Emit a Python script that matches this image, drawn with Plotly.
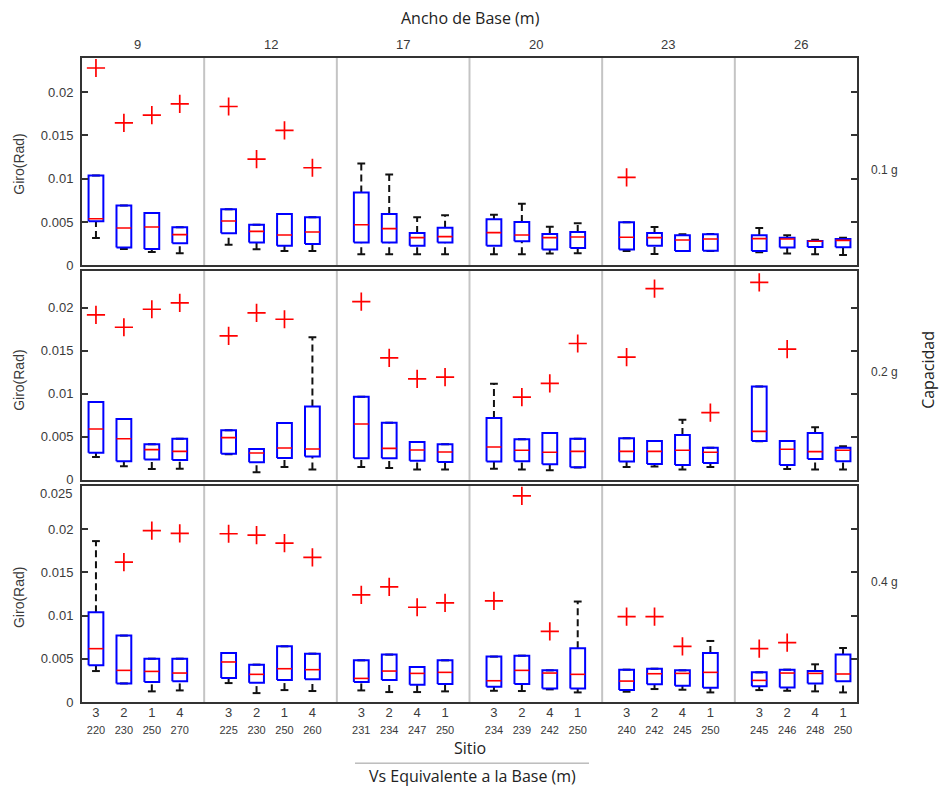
import plotly.graph_objects as go

# ---------------- data ----------------
anchos = [9, 12, 17, 20, 23, 26]
capacidades = ["0.1 g", "0.2 g", "0.4 g"]
sitios = [3, 2, 1, 4, 3, 2, 1, 4, 3, 2, 4, 1, 3, 2, 4, 1, 3, 2, 4, 1, 3, 2, 4, 1]
vs_base = [220, 230, 250, 270, 225, 230, 250, 260, 231, 234, 247, 250,
           234, 239, 242, 250, 240, 242, 245, 250, 245, 246, 248, 250]

# Capacidad 0.1 g
lo_01 = [0.00315, 0.00188, 0.00154, 0.00138, 0.00238, 0.00185, 0.00165, 0.00165,
         0.00127, 0.00127, 0.00127, 0.00127, 0.00127, 0.00127, 0.00135, 0.00138,
         0.00165, 0.00131, 0.00165, 0.00165, 0.00150, 0.00135, 0.00127, 0.00119]
q1_01 = [0.00508, 0.00204, 0.00188, 0.00254, 0.00369, 0.00262, 0.00227, 0.00246,
         0.00262, 0.00262, 0.00227, 0.00262, 0.00227, 0.00277, 0.00181, 0.00200,
         0.00181, 0.00227, 0.00165, 0.00169, 0.00165, 0.00204, 0.00212, 0.00208]
med_01 = [0.00538, 0.00431, 0.00442, 0.00354, 0.00512, 0.00392, 0.00350, 0.00385,
          0.00469, 0.00423, 0.00319, 0.00331, 0.00377, 0.00350, 0.00319, 0.00327,
          0.00323, 0.00319, 0.00292, 0.00304, 0.00308, 0.00304, 0.00277, 0.00288]
q3_01 = [0.01038, 0.00692, 0.00604, 0.00438, 0.00646, 0.00469, 0.00592, 0.00554,
         0.00842, 0.00592, 0.00373, 0.00435, 0.00531, 0.00500, 0.00362, 0.00385,
         0.00496, 0.00373, 0.00346, 0.00358, 0.00346, 0.00319, 0.00281, 0.00304]
hi_01 = [0.01038, 0.00692, 0.00604, 0.00438, 0.00646, 0.00469, 0.00592, 0.00554,
         0.01177, 0.01050, 0.00554, 0.00577, 0.00585, 0.00712, 0.00446, 0.00485,
         0.00496, 0.00442, 0.00358, 0.00362, 0.00431, 0.00346, 0.00296, 0.00319]
out_01 = [0.02280, 0.01646, 0.01735, 0.01865, 0.01835, 0.01227, 0.01558, 0.01127,
          None, None, None, None, None, None, None, None,
          0.01015, None, None, None, None, None, None, None]

# Capacidad 0.2 g
lo_02 = [0.00267, 0.00158, 0.00128, 0.00131, 0.00298, 0.00089, 0.00151, 0.00120,
         0.00151, 0.00139, 0.00120, 0.00120, 0.00131, 0.00120, 0.00112, 0.00143,
         0.00151, 0.00155, 0.00120, 0.00151, 0.00448, 0.00128, 0.00120, 0.00120]
q1_02 = [0.00317, 0.00216, 0.00236, 0.00232, 0.00305, 0.00205, 0.00255, 0.00271,
         0.00251, 0.00251, 0.00224, 0.00209, 0.00213, 0.00216, 0.00182, 0.00147,
         0.00213, 0.00186, 0.00174, 0.00197, 0.00452, 0.00174, 0.00244, 0.00216]
med_02 = [0.00591, 0.00479, 0.00352, 0.00332, 0.00491, 0.00313, 0.00371, 0.00360,
          0.00649, 0.00367, 0.00348, 0.00325, 0.00383, 0.00344, 0.00321, 0.00332,
          0.00332, 0.00332, 0.00344, 0.00321, 0.00564, 0.00356, 0.00329, 0.00344]
q3_02 = [0.00905, 0.00707, 0.00414, 0.00479, 0.00576, 0.00360, 0.00661, 0.00854,
         0.00966, 0.00665, 0.00441, 0.00414, 0.00719, 0.00472, 0.00545, 0.00479,
         0.00483, 0.00452, 0.00522, 0.00375, 0.01086, 0.00452, 0.00545, 0.00375]
hi_02 = [0.00905, 0.00707, 0.00414, 0.00479, 0.00576, 0.00360, 0.00661, 0.01658,
         0.00966, 0.00665, 0.00441, 0.00414, 0.01117, 0.00472, 0.00545, 0.00479,
         0.00483, 0.00452, 0.00700, 0.00375, 0.01086, 0.00452, 0.00611, 0.00390]
out_02 = [0.01917, 0.01774, 0.01983, 0.02056, 0.01674, 0.01940, 0.01867, None,
          0.02072, 0.01419, 0.01175, 0.01194, None, 0.00963, 0.01121, 0.01585,
          0.01426, 0.02223, None, 0.00781, 0.02296, 0.01519, None, None]

# Capacidad 0.4 g
lo_04 = [0.00359, 0.00216, 0.00124, 0.00135, 0.00220, 0.00104, 0.00139, 0.00128,
         0.00135, 0.00116, 0.00116, 0.00124, 0.00131, 0.00128, 0.00147, 0.00112,
         0.00120, 0.00151, 0.00143, 0.00112, 0.00139, 0.00131, 0.00124, 0.00112]
q1_04 = [0.00425, 0.00216, 0.00232, 0.00240, 0.00278, 0.00224, 0.00255, 0.00263,
         0.00232, 0.00255, 0.00201, 0.00209, 0.00178, 0.00209, 0.00158, 0.00158,
         0.00139, 0.00205, 0.00189, 0.00166, 0.00182, 0.00170, 0.00216, 0.00240]
med_04 = [0.00618, 0.00367, 0.00355, 0.00336, 0.00464, 0.00321, 0.00386, 0.00375,
          0.00274, 0.00359, 0.00332, 0.00344, 0.00247, 0.00367, 0.00336, 0.00321,
          0.00243, 0.00328, 0.00332, 0.00344, 0.00251, 0.00336, 0.00332, 0.00325]
q3_04 = [0.01039, 0.00769, 0.00502, 0.00502, 0.00568, 0.00433, 0.00645, 0.00560,
         0.00483, 0.00549, 0.00406, 0.00483, 0.00526, 0.00537, 0.00367, 0.00622,
         0.00375, 0.00386, 0.00367, 0.00568, 0.00344, 0.00375, 0.00359, 0.00549]
hi_04 = [0.01862, 0.00769, 0.00502, 0.00502, 0.00568, 0.00433, 0.00645, 0.00560,
         0.00483, 0.00549, 0.00406, 0.00483, 0.00526, 0.00537, 0.00367, 0.01163,
         0.00375, 0.00386, 0.00367, 0.00707, 0.00344, 0.00375, 0.00437, 0.00626]
out_04 = [None, 0.01619, 0.01982, 0.01951, 0.01947, 0.01932, 0.01839, 0.01673,
          0.01240, 0.01333, 0.01097, 0.01148, 0.01171, 0.02384, 0.00819, None,
          0.00989, 0.00989, 0.00645, None, 0.00618, 0.00688, None, None]

rows = [
    (lo_01, q1_01, med_01, q3_01, hi_01, out_01),
    (lo_02, q1_02, med_02, q3_02, hi_02, out_02),
    (lo_04, q1_04, med_04, q3_04, hi_04, out_04),
]
y_ranges = [[0, 0.024], [0, 0.0243], [0, 0.025]]

# ---------------- layout helpers ----------------
W, H = 939, 790


def py(ypix):
    """reference pixel row -> paper fraction (slight vertical stretch)"""
    adj = 40 + (ypix - 40) * 1.011
    return 1 - adj / H


GROUP_STEP = 4.75
positions = [g * GROUP_STEP + i for g in range(len(anchos)) for i in range(4)]
dividers = [g * GROUP_STEP + 3.875 for g in range(len(anchos) - 1)]
x_range = [-0.5, positions[-1] + 0.5]
BW = 0.265  # half box width
CW = 0.14   # half cap width

x_dom = [82 / W, 857 / W]
y_doms = [[py(265.5), py(58)],
          [py(480), py(271)],
          [py(702), py(486)]]

FRAME = "#333333"
TICKFONT = dict(family="Liberation Sans, Arial", size=13, color="#3a3a3a")

fig = go.Figure()

for r, (lo, q1, med, q3, hi, out) in enumerate(rows):
    xa = "x" if r == 0 else f"x{r+1}"
    ya = "y" if r == 0 else f"y{r+1}"
    wx, wy, cx, cy, bx, by, mx, my, ox, oy = [], [], [], [], [], [], [], [], [], []
    for k, p in enumerate(positions):
        wx += [p, p, None, p, p, None]
        wy += [q3[k], hi[k], None, lo[k], q1[k], None]
        cx += [p - CW, p + CW, None, p - CW, p + CW, None]
        cy += [hi[k], hi[k], None, lo[k], lo[k], None]
        bx += [p - BW, p + BW, p + BW, p - BW, p - BW, None]
        by += [q1[k], q1[k], q3[k], q3[k], q1[k], None]
        mx += [p - BW, p + BW, None]
        my += [med[k], med[k], None]
        if out[k] is not None:
            ox.append(p)
            oy.append(out[k])
    fig.add_trace(go.Scatter(x=wx, y=wy, mode="lines", xaxis=xa, yaxis=ya,
                             line=dict(color="#111111", width=2, dash="7px,4px"),
                             hoverinfo="skip", showlegend=False))
    fig.add_trace(go.Scatter(x=cx, y=cy, mode="lines", xaxis=xa, yaxis=ya,
                             line=dict(color="#111111", width=2),
                             hoverinfo="skip", showlegend=False))
    fig.add_trace(go.Scatter(x=bx, y=by, mode="lines", xaxis=xa, yaxis=ya,
                             line=dict(color="#0000ff", width=2),
                             hoverinfo="skip", showlegend=False))
    fig.add_trace(go.Scatter(x=mx, y=my, mode="lines", xaxis=xa, yaxis=ya,
                             line=dict(color="#ff0000", width=1.6),
                             hoverinfo="skip", showlegend=False))
    fig.add_trace(go.Scatter(x=ox, y=oy, mode="markers", xaxis=xa, yaxis=ya,
                             marker=dict(symbol="cross-thin", size=13,
                                         line=dict(color="#ff0000", width=1.7)),
                             hoverinfo="skip", showlegend=False))

    for d in dividers:
        fig.add_shape(type="line", xref=xa, yref=f"{ya} domain", x0=d, x1=d, y0=0, y1=1,
                      line=dict(color="#c4c4c4", width=2), layer="below")

    xkey = "xaxis" if r == 0 else f"xaxis{r+1}"
    ykey = "yaxis" if r == 0 else f"yaxis{r+1}"
    xcfg = dict(domain=x_dom, anchor=ya, range=x_range, showgrid=False, zeroline=False,
                showline=True, mirror=True, linecolor=FRAME, linewidth=2, ticks="",
                fixedrange=True)
    if r == 2:
        xcfg.update(tickmode="array", tickvals=positions,
                    ticktext=[f"{s}<br><span style='font-size:11px'>{v}</span>"
                              for s, v in zip(sitios, vs_base)],
                    tickfont=TICKFONT, ticklabelstandoff=-3)
    else:
        xcfg.update(showticklabels=False)
    yt = [0, 0.005, 0.01, 0.015, 0.02]
    ycfg = dict(domain=y_doms[r], anchor=xa, range=y_ranges[r], showgrid=False,
                zeroline=False, showline=True, mirror="ticks", linecolor=FRAME,
                linewidth=2, ticks="inside", ticklen=6, tickwidth=1.5, tickcolor=FRAME,
                tickmode="array", tickvals=yt,
                ticktext=["0", "0.005", "0.01", "0.015", "0.02"],
                tickfont=TICKFONT, ticklabelstandoff=4, fixedrange=True)
    fig.layout[xkey] = xcfg
    fig.layout[ykey] = ycfg

TITLE_FONT = dict(family="Open Sans", size=16, color="#222222")
C = dict(xanchor="center", yanchor="middle", showarrow=False)
ann = []
ann.append(dict(text="Ancho de Base (m)", x=470 / W, y=py(18), xref="paper", yref="paper",
                font=TITLE_FONT, **C))
for g, a in enumerate(anchos):
    ann.append(dict(text=str(a), x=g * GROUP_STEP + 1.5, y=py(45), xref="x", yref="paper",
                    font=TICKFONT, **C))
giro_y = [165, 381, 598]
cap_y = [170, 372, 582]
for r in range(3):
    ann.append(dict(text="Giro(Rad)", x=19 / W, y=py(giro_y[r]), xref="paper", yref="paper",
                    textangle=-90,
                    font=dict(family="Liberation Sans, Arial", size=14, color="#3a3a3a"), **C))
    ann.append(dict(text=capacidades[r], x=884 / W, y=py(cap_y[r]), xref="paper",
                    yref="paper",
                    font=dict(family="Liberation Sans, Arial", size=12, color="#3a3a3a"), **C))
ann.append(dict(text="Capacidad", x=928 / W, y=py(370), xref="paper", yref="paper",
                textangle=-90, font=TITLE_FONT, **C))
ann.append(dict(text="0.025", x=75 / W, y=py(494), xref="paper", yref="paper",
                xanchor="right", yanchor="middle", showarrow=False, font=TICKFONT))
ann.append(dict(text="Sitio", x=470 / W, y=py(748), xref="paper", yref="paper",
                font=TITLE_FONT, **C))
ann.append(dict(text="Vs Equivalente a la Base (m)", x=473 / W, y=py(776), xref="paper",
                yref="paper", font=TITLE_FONT, **C))

fig.add_shape(type="line", xref="paper", yref="paper", x0=355 / W, x1=589 / W,
              y0=py(763), y1=py(763), line=dict(color="#9a9a9a", width=1))

fig.update_layout(width=W, height=H, margin=dict(l=0, r=0, t=0, b=0),
                  paper_bgcolor="white", plot_bgcolor="white", annotations=ann,
                  showlegend=False)

fig.write_html("out.html")
